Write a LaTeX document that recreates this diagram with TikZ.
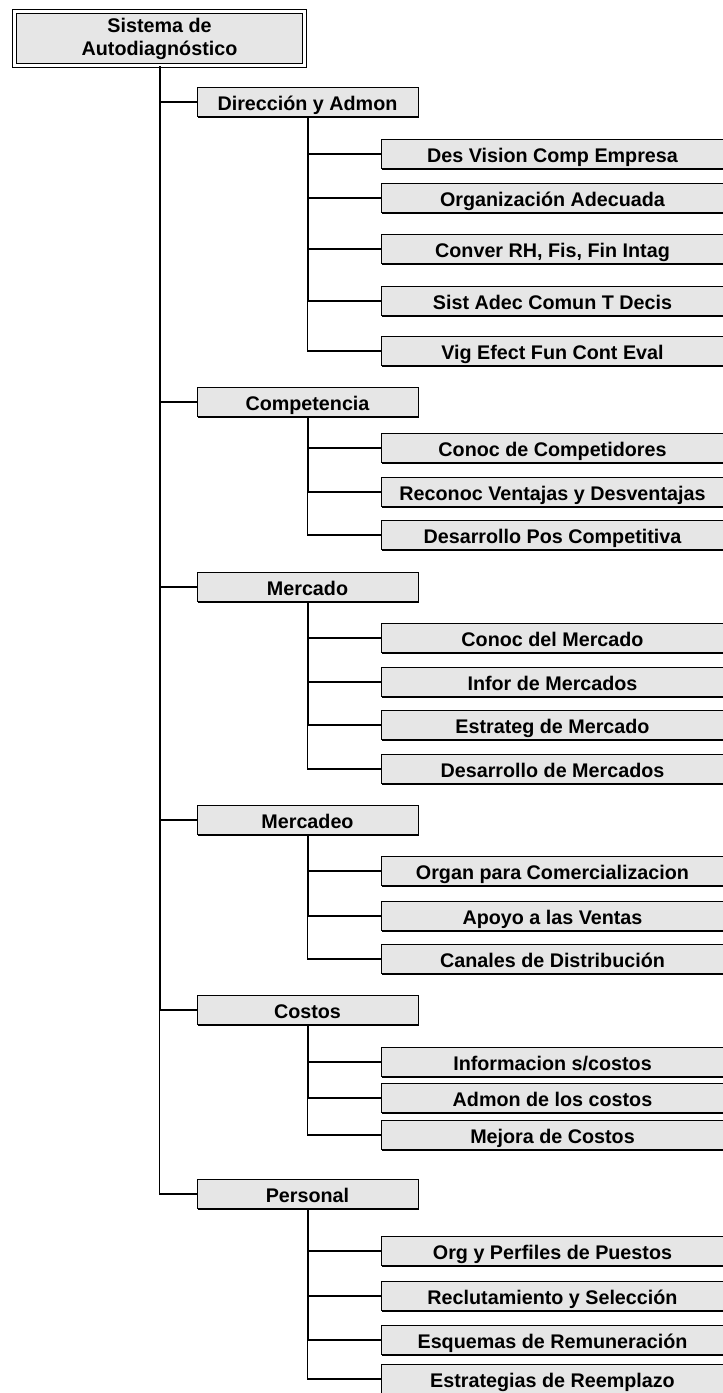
\documentclass[tikz,border=0pt]{standalone}
\usepackage{fontspec}
\setmainfont{Liberation Sans}
\usepackage{tikz}
\usetikzlibrary{shadows}
\definecolor{caja}{HTML}{E6E6E6}
\tikzset{
  fino/.style={draw=black, line width=1pt},
  grueso/.style={draw=black, line width=1.5pt},
  bloque/.style={draw=black, line width=0.75pt, fill=caja, inner sep=0pt,
    minimum height=21.75pt, text height=13pt, text depth=0pt,
    font=\bfseries\fontsize{14.8}{17.25}\selectfont,
    drop shadow={shadow xshift=0.75pt, shadow yshift=-0.75pt, opacity=1, fill=black}},
  area/.style={bloque, minimum width=165.75pt},
  tema/.style={bloque, minimum width=257.25pt},
  raiz/.style={draw=black, line width=0.75pt, double, double distance=2.25pt,
    fill=caja, minimum width=217.5pt, minimum height=40.5pt, align=center,
    inner sep=0pt, font=\bfseries\fontsize{14.8}{17.25}\selectfont},
}

\begin{document}
\begin{tikzpicture}[x=0.75pt, y=-0.75pt]
  \useasboundingbox (0,0) rectangle (723,1393);
  \clip (0,0) rectangle (723,1393);
  \coordinate (tronco) at (159.5,0);

  % raiz y areas
  \node[raiz] (sis) at (159.5,38.5) {Sistema de\\Autodiagnóstico};
  \node[area] (dir)  at (307.5,102)  {Dirección y Admon};
  \node[area] (comp) at (307.5,402)  {Competencia};
  \node[area] (merc) at (307.5,587)  {Mercado};
  \node[area] (mdeo) at (307.5,820)  {Mercadeo};
  \node[area] (cos)  at (307.5,1010) {Costos};
  \node[area] (per)  at (307.5,1194) {Personal};

  % temas
  \node[tema] (dir1) at (552.5,154) {Des Vision Comp Empresa};
  \node[tema] (dir2) at (552.5,198) {Organización Adecuada};
  \node[tema] (dir3) at (552.5,249) {Conver RH, Fis, Fin Intag};
  \node[tema] (dir4) at (552.5,301) {Sist Adec Comun T Decis};
  \node[tema] (dir5) at (552.5,351) {Vig Efect Fun Cont Eval};

  \node[tema] (comp1) at (552.5,448) {Conoc de Competidores};
  \node[tema] (comp2) at (552.5,492) {Reconoc Ventajas y Desventajas};
  \node[tema] (comp3) at (552.5,535) {Desarrollo Pos Competitiva};

  \node[tema] (merc1) at (552.5,638) {Conoc del Mercado};
  \node[tema] (merc2) at (552.5,682) {Infor de Mercados};
  \node[tema] (merc3) at (552.5,725) {Estrateg de Mercado};
  \node[tema] (merc4) at (552.5,769) {Desarrollo de Mercados};

  \node[tema] (mdeo1) at (552.5,871) {Organ para Comercializacion};
  \node[tema] (mdeo2) at (552.5,916) {Apoyo a las Ventas};
  \node[tema] (mdeo3) at (552.5,959) {Canales de Distribución};

  \node[tema] (cos1) at (552.5,1062) {Informacion s/costos};
  \node[tema] (cos2) at (552.5,1098) {Admon de los costos};
  \node[tema] (cos3) at (552.5,1135) {Mejora de Costos};

  \node[tema] (per1) at (552.5,1251) {Org y Perfiles de Puestos};
  \node[tema] (per2) at (552.5,1296) {Reclutamiento y Selección};
  \node[tema] (per3) at (552.5,1340) {Esquemas de Remuneración};
  \node[tema] (per4) at (552.5,1379) {Estrategias de Reemplazo};

  % tronco principal
  \draw[grueso] (sis.south -| tronco) -- (tronco |- cos.west);
  \draw[fino] (tronco |- cos.west) |- (per.west);
  \draw[fino] (tronco |- dir.west) -- (dir.west);
  \draw[fino] (tronco |- comp.west) -- (comp.west);
  \draw[fino] (tronco |- merc.west) -- (merc.west);
  \draw[fino] (tronco |- mdeo.west) -- (mdeo.west);
  \draw[fino] (tronco |- cos.west) -- (cos.west);

  % ramas
  \draw[grueso] (dir.south) -- (dir.south |- dir4.west);
  \draw[fino] (dir.south |- dir4.west) |- (dir5.west);
  \draw[fino] (dir.south |- dir1.west) -- (dir1.west);
  \draw[fino] (dir.south |- dir2.west) -- (dir2.west);
  \draw[fino] (dir.south |- dir3.west) -- (dir3.west);
  \draw[fino] (dir.south |- dir4.west) -- (dir4.west);

  \draw[grueso] (comp.south) -- (comp.south |- comp2.west);
  \draw[fino] (comp.south |- comp2.west) |- (comp3.west);
  \draw[fino] (comp.south |- comp1.west) -- (comp1.west);
  \draw[fino] (comp.south |- comp2.west) -- (comp2.west);

  \draw[grueso] (merc.south) -- (merc.south |- merc3.west);
  \draw[fino] (merc.south |- merc3.west) |- (merc4.west);
  \draw[fino] (merc.south |- merc1.west) -- (merc1.west);
  \draw[fino] (merc.south |- merc2.west) -- (merc2.west);
  \draw[fino] (merc.south |- merc3.west) -- (merc3.west);

  \draw[grueso] (mdeo.south) -- (mdeo.south |- mdeo2.west);
  \draw[fino] (mdeo.south |- mdeo2.west) |- (mdeo3.west);
  \draw[fino] (mdeo.south |- mdeo1.west) -- (mdeo1.west);
  \draw[fino] (mdeo.south |- mdeo2.west) -- (mdeo2.west);

  \draw[grueso] (cos.south) -- (cos.south |- cos2.west);
  \draw[fino] (cos.south |- cos2.west) |- (cos3.west);
  \draw[fino] (cos.south |- cos1.west) -- (cos1.west);
  \draw[fino] (cos.south |- cos2.west) -- (cos2.west);

  \draw[grueso] (per.south) -- (per.south |- per3.west);
  \draw[fino] (per.south |- per3.west) |- (per4.west);
  \draw[fino] (per.south |- per1.west) -- (per1.west);
  \draw[fino] (per.south |- per2.west) -- (per2.west);
  \draw[fino] (per.south |- per3.west) -- (per3.west);
\end{tikzpicture}
\end{document}
